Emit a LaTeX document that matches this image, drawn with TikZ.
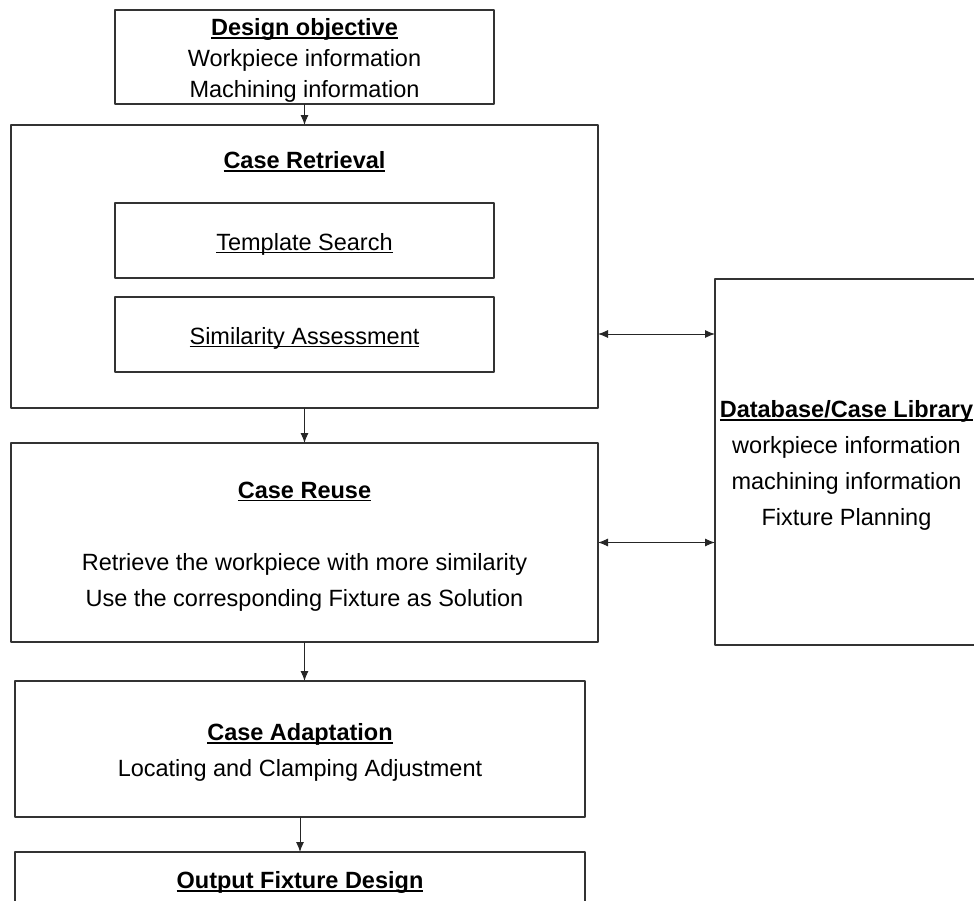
\documentclass[tikz,border=0pt]{standalone}
\usepackage{fontspec}
\setmainfont{Liberation Sans}
\usetikzlibrary{arrows.meta}
\newcommand\utext[1]{\setbox0\hbox{#1}\rlap{\rule[-3.2pt]{\wd0}{1.4pt}}\box0}
% a strut on the first line drops each text a little, as in the original
\newcommand\heading[1]{\rule{0pt}{24pt}{\bfseries\utext{#1}}}
\newcommand\subheading[1]{\rule{0pt}{24pt}\utext{#1}}

\begin{document}
\begin{tikzpicture}[x=1pt, y=-1pt, line join=round, >={Latex[length=10pt,width=8pt]},
        font=\fontsize{23.5}{31}\selectfont,
        box/.style={draw=black!80, line width=1.2pt, inner sep=0pt, outer sep=0pt, align=center},
        link/.style={draw=black!85, line width=1pt}]
            \useasboundingbox (0,0) rectangle (974,900);
            \node[box, minimum width=379pt, minimum height=94pt] (objective) at (304.5,57)
                {\heading{Design objective}\\Workpiece information\\Machining information};
            \node[box, minimum width=587pt, minimum height=283pt] (retrieval) at (304.5,266.5) {};
            \node[inner sep=0pt] (retrieval title) at (304.5,158) {\heading{Case Retrieval}};
            \node[box, minimum width=379pt, minimum height=75pt] (search) at (304.5,240.5) {\subheading{Template Search}};
            \node[box, minimum width=379pt, minimum height=75pt] (similarity) at (304.5,334.5) {\subheading{Similarity Assessment}};
            \node[box, minimum width=587pt, minimum height=199pt, font=\fontsize{23.5}{36}\selectfont] (reuse) at (304.5,542.5)
                {\heading{Case Reuse}\\[36pt]Retrieve the workpiece with more similarity\\Use the corresponding Fixture as Solution};
            \node[box, minimum width=570pt, minimum height=136pt, font=\fontsize{23.5}{36}\selectfont] (adapt) at (300,749)
                {\heading{Case Adaptation}\\Locating and Clamping Adjustment};
            \node[box, minimum width=570pt, minimum height=54pt] (output) at (300,879) {\heading{Output Fixture Design}};
            \node[box, minimum width=263pt, minimum height=366pt, font=\fontsize{23.5}{36}\selectfont] (database) at (846.5,462)
                {\heading{Database/Case Library}\\workpiece information\\machining information\\Fixture Planning};
            \coordinate (upper link) at (656,334);
            \draw[link, ->] (objective) -- (retrieval);
            \draw[link, ->] (retrieval) -- (reuse);
            \draw[link, ->] (reuse.south) -- (reuse.south |- adapt.north);
            \draw[link, ->] (adapt) -- (output);
            \draw[link, <->] (retrieval.east |- upper link) -- (database.west |- upper link);
            \draw[link, <->] (reuse.east) -- (reuse.east -| database.west);
\end{tikzpicture}
\end{document}
